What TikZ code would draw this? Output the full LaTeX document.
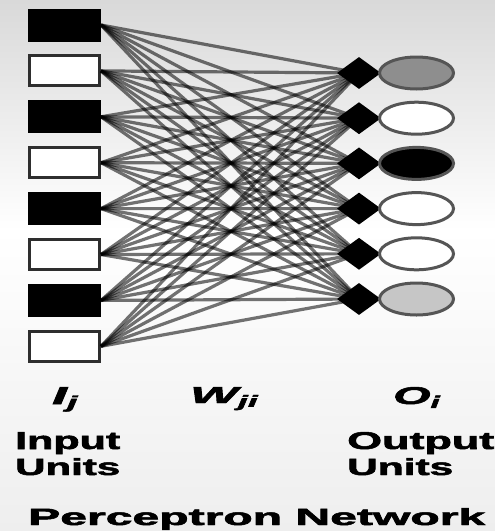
\documentclass[tikz,border=0pt]{standalone}
\usepackage{fontspec}
\setmainfont{Liberation Sans}
\newfontfamily\heavyfont{Liberation Sans}[BoldFeatures={FakeBold=2}, BoldItalicFeatures={FakeBold=2}]
\usepackage{graphicx}
\usetikzlibrary{shapes.geometric}
\definecolor{bgtop}{HTML}{D9D9D9}
\definecolor{bgbot}{HTML}{EEEEEE}
\definecolor{boxedge}{HTML}{2E2E2E}
\definecolor{ovedge}{HTML}{555555}
\definecolor{ovgray}{HTML}{8E8E8E}
\definecolor{ovlight}{HTML}{C6C6C6}
\tikzset{
  inbox/.style={rectangle, minimum width=70pt, minimum height=30pt, inner sep=0pt, line width=3pt},
  infull/.style={inbox, draw=black, fill=black},
  inempty/.style={inbox, draw=boxedge, fill=white},
  junction/.style={diamond, fill=black, minimum width=44pt, minimum height=32pt, inner sep=0pt},
  outunit/.style={ellipse, draw=ovedge, line width=3pt, minimum width=74pt, minimum height=32pt, inner sep=0pt},
  weight/.style={draw=black, draw opacity=0.55, line width=3.2pt},
  lbl/.style={inner sep=0pt, anchor=base west, font=\heavyfont\bfseries}
}
\begin{document}
\begin{tikzpicture}[x={(1pt,0)}, y={(0,-1pt)}]
\useasboundingbox (0,0) rectangle (495,531);
\shade[top color=bgtop, bottom color=white] (0,0) rectangle (495,230);
\shade[top color=white, bottom color=bgbot] (0,230) rectangle (495,531);
% input units
\foreach \i/\s in {1/infull,2/inempty,3/infull,4/inempty,5/infull,6/inempty,7/infull,8/inempty}{
  \node[\s] (in\i) at (64.5,{25+45.9*(\i-1)}) {};
}
% junctions
\foreach \k in {1,...,6}{
  \coordinate (jc\k) at (359,{73+45.2*(\k-1)});
}
% weights
\foreach \i in {1,...,8}{
  \foreach \k in {1,...,6}{
    \draw[weight] (in\i.east) -- (jc\k);
  }
}
\foreach \k in {1,...,6}{
  \node[junction] (j\k) at (jc\k) {};
}
% output units
\foreach \k/\f in {1/ovgray,2/white,3/black,4/white,5/white,6/ovlight}{
  \node[outunit, fill=\f] (o\k) at (416.5,{73+45.2*(\k-1)}) {};
}
% labels
\node[lbl] (lI) at (52,404) {\resizebox{28pt}{17pt}{\itshape I\textsubscript{j}}};
\node[lbl] (lW) at (190,403) {\resizebox{70pt}{16pt}{\itshape W\textsubscript{ji}}};
\node[lbl] (lO) at (393,404) {\resizebox{49pt}{17pt}{\itshape O\textsubscript{i}}};
\node[lbl] (tin1) at (15,449) {\resizebox{105pt}{17pt}{Input}};
\node[lbl] (tin2) at (15,475) {\resizebox{105pt}{17pt}{Units}};
\node[lbl] (tout1) at (347,449) {\resizebox{147pt}{17pt}{Output}};
\node[lbl] (tout2) at (347,475) {\resizebox{106pt}{17pt}{Units}};
\node[lbl] (title) at (28,525) {\resizebox{457pt}{17pt}{Perceptron Network}};
\end{tikzpicture}
\end{document}
